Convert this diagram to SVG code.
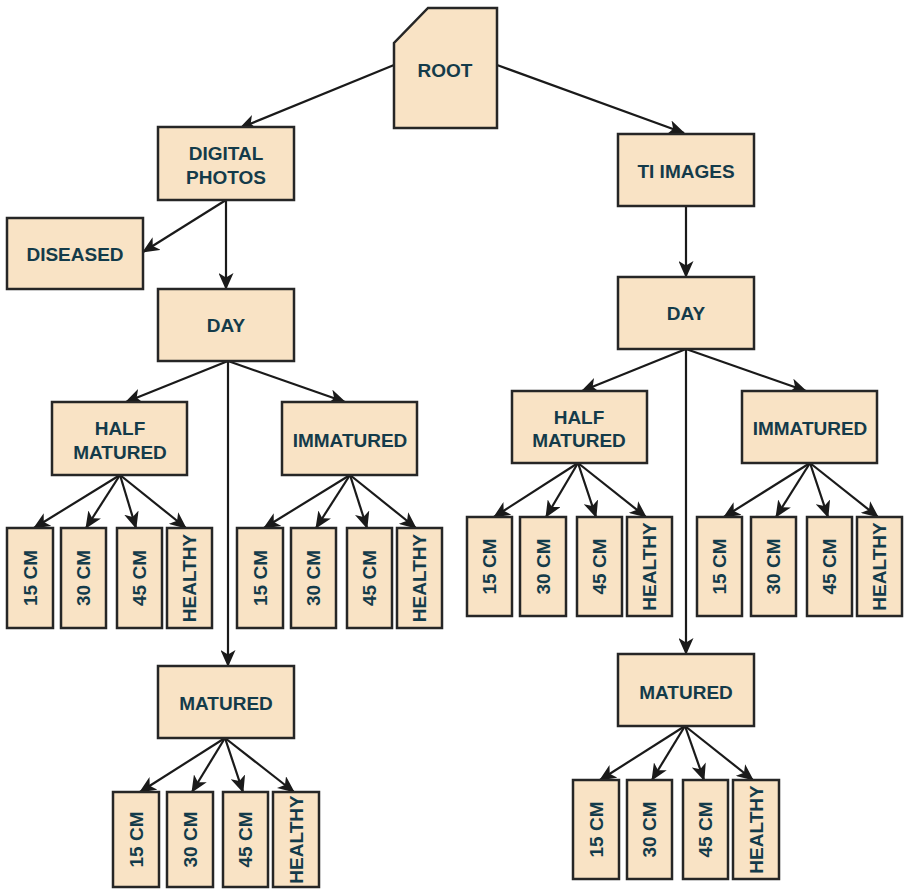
<svg xmlns="http://www.w3.org/2000/svg" width="904" height="891" viewBox="0 0 904 891">
<style>
.n{fill:#f9e3c5;stroke:#262626;stroke-width:2.5}
.t{font-family:"Liberation Sans",Arial,sans-serif;font-weight:bold;font-size:19px;fill:#143b4a;text-anchor:middle;dominant-baseline:central}
.c line{stroke:#1a1a1a;stroke-width:2.2;marker-end:url(#ah)}
</style>
<defs>
<marker id="ah" markerUnits="userSpaceOnUse" markerWidth="17" markerHeight="15" refX="16" refY="7.5" orient="auto">
<path d="M0,0 L17,7.5 L0,15 L4.5,7.5 z" fill="#1a1a1a"/>
</marker>
</defs>
<g id="connectors" class="c">
<line x1="394" y1="65" x2="240" y2="128"/>
<line x1="497" y1="65" x2="684" y2="133"/>
<line x1="226" y1="200" x2="143" y2="252"/>
<line x1="226" y1="200" x2="226" y2="289"/>
<line x1="228" y1="361" x2="126" y2="402"/>
<line x1="228" y1="361" x2="345" y2="402"/>
<line x1="228" y1="361" x2="228" y2="666"/>
<line x1="120" y1="475" x2="34" y2="528"/>
<line x1="120" y1="475" x2="86" y2="528"/>
<line x1="120" y1="475" x2="136" y2="528"/>
<line x1="120" y1="475" x2="186" y2="528"/>
<line x1="350" y1="475" x2="264" y2="528"/>
<line x1="350" y1="475" x2="316" y2="528"/>
<line x1="350" y1="475" x2="367" y2="528"/>
<line x1="350" y1="475" x2="416" y2="528"/>
<line x1="225" y1="738" x2="140" y2="792"/>
<line x1="225" y1="738" x2="192" y2="792"/>
<line x1="225" y1="738" x2="243" y2="792"/>
<line x1="225" y1="738" x2="294" y2="792"/>
<line x1="686" y1="206" x2="686" y2="277"/>
<line x1="686" y1="349" x2="582" y2="391"/>
<line x1="686" y1="349" x2="806" y2="391"/>
<line x1="686" y1="349" x2="686" y2="654"/>
<line x1="578" y1="463" x2="494" y2="517"/>
<line x1="578" y1="463" x2="546" y2="517"/>
<line x1="578" y1="463" x2="596" y2="517"/>
<line x1="578" y1="463" x2="646" y2="517"/>
<line x1="810" y1="463" x2="724" y2="517"/>
<line x1="810" y1="463" x2="776" y2="517"/>
<line x1="810" y1="463" x2="828" y2="517"/>
<line x1="810" y1="463" x2="878" y2="517"/>
<line x1="685" y1="726" x2="600" y2="780"/>
<line x1="685" y1="726" x2="652" y2="780"/>
<line x1="685" y1="726" x2="704" y2="780"/>
<line x1="685" y1="726" x2="753" y2="780"/>
</g>
<g id="root"><polygon class="n" points="428,8 497,8 497,128 394,128 394,43"/><text class="t" x="445" y="70">ROOT</text></g>
<g id="digital-photos"><rect class="n" x="158" y="127" width="136" height="73"/><text class="t" x="226" y="153">DIGITAL</text><text class="t" x="226" y="177">PHOTOS</text></g>
<g id="diseased"><rect class="n" x="7" y="218" width="136" height="71"/><text class="t" x="75" y="254">DISEASED</text></g>
<g id="day-l"><rect class="n" x="158" y="289" width="136" height="72"/><text class="t" x="226" y="325">DAY</text></g>
<g id="half-l"><rect class="n" x="52" y="402" width="135" height="73"/><text class="t" x="120" y="428">HALF</text><text class="t" x="120" y="452">MATURED</text></g>
<g id="imm-l"><rect class="n" x="282" y="402" width="135" height="73"/><text class="t" x="350" y="440">IMMATURED</text></g>
<g id="mat-l"><rect class="n" x="158" y="666" width="136" height="72"/><text class="t" x="226" y="703">MATURED</text></g>
<g id="hl-15"><rect class="n" x="7" y="528" width="46" height="100"/><text class="t" transform="translate(30,578) rotate(-90)">15 CM</text></g>
<g id="hl-30"><rect class="n" x="61" y="528" width="45" height="100"/><text class="t" transform="translate(83.5,578) rotate(-90)">30 CM</text></g>
<g id="hl-45"><rect class="n" x="117" y="528" width="45" height="100"/><text class="t" transform="translate(139.5,578) rotate(-90)">45 CM</text></g>
<g id="hl-h"><rect class="n" x="167" y="528" width="45" height="100"/><text class="t" transform="translate(189.5,578) rotate(-90)">HEALTHY</text></g>
<g id="il-15"><rect class="n" x="237" y="528" width="46" height="100"/><text class="t" transform="translate(260,578) rotate(-90)">15 CM</text></g>
<g id="il-30"><rect class="n" x="291" y="528" width="45" height="100"/><text class="t" transform="translate(313.5,578) rotate(-90)">30 CM</text></g>
<g id="il-45"><rect class="n" x="347" y="528" width="45" height="100"/><text class="t" transform="translate(369.5,578) rotate(-90)">45 CM</text></g>
<g id="il-h"><rect class="n" x="397" y="528" width="45" height="100"/><text class="t" transform="translate(419.5,578) rotate(-90)">HEALTHY</text></g>
<g id="ml-15"><rect class="n" x="113" y="792" width="46" height="95"/><text class="t" transform="translate(136,839.5) rotate(-90)">15 CM</text></g>
<g id="ml-30"><rect class="n" x="167" y="792" width="46" height="95"/><text class="t" transform="translate(190,839.5) rotate(-90)">30 CM</text></g>
<g id="ml-45"><rect class="n" x="223" y="792" width="45" height="95"/><text class="t" transform="translate(245.5,839.5) rotate(-90)">45 CM</text></g>
<g id="ml-h"><rect class="n" x="273" y="792" width="46" height="95"/><text class="t" transform="translate(296,839.5) rotate(-90)">HEALTHY</text></g>
<g id="ti-images"><rect class="n" x="618" y="134" width="136" height="72"/><text class="t" x="686" y="171">TI IMAGES</text></g>
<g id="day-r"><rect class="n" x="618" y="277" width="136" height="72"/><text class="t" x="686" y="313">DAY</text></g>
<g id="half-r"><rect class="n" x="512" y="391" width="135" height="72"/><text class="t" x="579" y="417">HALF</text><text class="t" x="579" y="440">MATURED</text></g>
<g id="imm-r"><rect class="n" x="742" y="391" width="135" height="72"/><text class="t" x="810" y="428">IMMATURED</text></g>
<g id="mat-r"><rect class="n" x="618" y="654" width="136" height="72"/><text class="t" x="686" y="692">MATURED</text></g>
<g id="hr-15"><rect class="n" x="467" y="517" width="45" height="99"/><text class="t" transform="translate(489.5,566.5) rotate(-90)">15 CM</text></g>
<g id="hr-30"><rect class="n" x="520" y="517" width="46" height="99"/><text class="t" transform="translate(543,566.5) rotate(-90)">30 CM</text></g>
<g id="hr-45"><rect class="n" x="577" y="517" width="45" height="99"/><text class="t" transform="translate(599.5,566.5) rotate(-90)">45 CM</text></g>
<g id="hr-h"><rect class="n" x="627" y="517" width="45" height="99"/><text class="t" transform="translate(649.5,566.5) rotate(-90)">HEALTHY</text></g>
<g id="ir-15"><rect class="n" x="697" y="517" width="45" height="99"/><text class="t" transform="translate(719.5,566.5) rotate(-90)">15 CM</text></g>
<g id="ir-30"><rect class="n" x="751" y="517" width="45" height="99"/><text class="t" transform="translate(773.5,566.5) rotate(-90)">30 CM</text></g>
<g id="ir-45"><rect class="n" x="807" y="517" width="45" height="99"/><text class="t" transform="translate(829.5,566.5) rotate(-90)">45 CM</text></g>
<g id="ir-h"><rect class="n" x="857" y="517" width="45" height="99"/><text class="t" transform="translate(879.5,566.5) rotate(-90)">HEALTHY</text></g>
<g id="mr-15"><rect class="n" x="573" y="780" width="46" height="99"/><text class="t" transform="translate(596,829.5) rotate(-90)">15 CM</text></g>
<g id="mr-30"><rect class="n" x="627" y="780" width="45" height="99"/><text class="t" transform="translate(649.5,829.5) rotate(-90)">30 CM</text></g>
<g id="mr-45"><rect class="n" x="683" y="780" width="45" height="99"/><text class="t" transform="translate(705.5,829.5) rotate(-90)">45 CM</text></g>
<g id="mr-h"><rect class="n" x="733" y="780" width="46" height="99"/><text class="t" transform="translate(756,829.5) rotate(-90)">HEALTHY</text></g>
</svg>
